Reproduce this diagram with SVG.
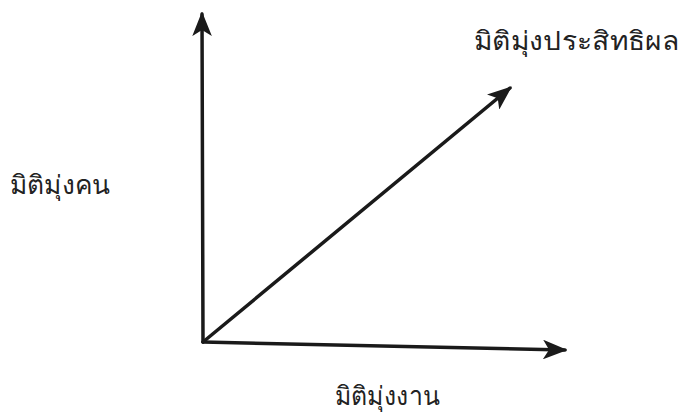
<svg xmlns="http://www.w3.org/2000/svg" width="684" height="414" viewBox="0 0 684 414">
<style>
.ax{stroke:#1a1a1a;stroke-width:3.5;fill:none;stroke-linecap:round}
.lbl{font-family:"Noto Sans","DejaVu Sans",sans-serif;font-size:26px;fill:#222}
</style>
<defs>
<marker id="ah" viewBox="0 0 20 16" refX="18" refY="8" markerWidth="7" markerHeight="5.6" markerUnits="strokeWidth" orient="auto">
<path d="M0,0 L20,8 L0,16 L5,8 Z" fill="#1a1a1a"/>
</marker>
</defs>
<rect width="684" height="414" fill="#fff"/>
<g id="connectors">
<line class="ax" x1="203" y1="342" x2="202" y2="14" marker-end="url(#ah)"/>
<line class="ax" x1="203" y1="342" x2="565" y2="350" marker-end="url(#ah)"/>
<line class="ax" x1="203" y1="342" x2="510" y2="88" marker-end="url(#ah)"/>
</g>
<g id="effectiveness"><text class="lbl" x="474" y="50" textLength="205" lengthAdjust="spacingAndGlyphs">มิติมุ่งประสิทธิผล</text></g>
<g id="people"><text class="lbl" x="10" y="194" textLength="100" lengthAdjust="spacingAndGlyphs">มิติมุ่งคน</text></g>
<g id="task"><text class="lbl" x="335" y="405" textLength="105" lengthAdjust="spacingAndGlyphs">มิติมุ่งงาน</text></g>
</svg>
